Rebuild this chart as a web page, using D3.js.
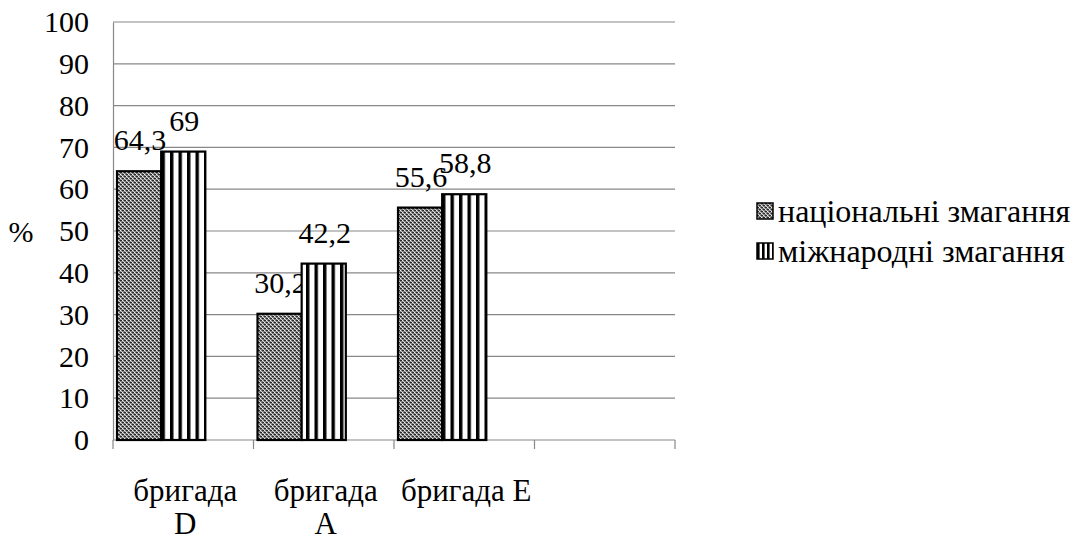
<!DOCTYPE html>
<html>
<head>
<meta charset="utf-8">
<script src="https://cdn.jsdelivr.net/npm/d3@7"></script>
<style>
  body { margin: 0; background: #fff; }
  svg text { font-family: "Liberation Serif", "Times New Roman", serif !important; fill: #000; }
</style>
</head>
<body>
<div id="chart"></div>
<script>
// data
const categories = ["бригада D", "бригада A", "бригада E", ""];
const catLines = [["бригада", "D"], ["бригада", "A"], ["бригада E"], []];
const seriesNames = ["національні змагання", "міжнародні змагання"];
const national = [64.3, 30.2, 55.6, null];
const international = [69, 42.2, 58.8, null];
const yTicks = [0, 10, 20, 30, 40, 50, 60, 70, 80, 90, 100];

const W = 1072, H = 535;
const plot = {left: 113, right: 675, top: 22, bottom: 440};
const fs = 30;
const serif = "'Liberation Serif', 'Times New Roman', serif";

const svg = d3.select("#chart").append("svg")
  .attr("width", W).attr("height", H)
  .attr("font-family", serif);

// patterns
const defs = svg.append("defs");
const checker = defs.append("pattern").attr("id", "checker")
  .attr("patternUnits", "userSpaceOnUse").attr("width", 4).attr("height", 4);
checker.append("rect").attr("width", 4).attr("height", 4).attr("fill", "#808080");
[[0,0,"#2a2a2a"],[1,0,"#2a2a2a"],[2,2,"#2a2a2a"],[3,2,"#2a2a2a"],[2,0,"#f4f4f4"],[0,2,"#f4f4f4"],[1,3,"#cfcfcf"],[3,1,"#cfcfcf"]]
  .forEach(p => checker.append("rect").attr("x", p[0]).attr("y", p[1])
    .attr("width", 1).attr("height", 1).attr("fill", p[2]));

const stripes = defs.append("pattern").attr("id", "stripes")
  .attr("patternUnits", "userSpaceOnUse").attr("width", 8.5).attr("height", 8);
stripes.append("rect").attr("width", 8.5).attr("height", 8).attr("fill", "#fff");
stripes.append("rect").attr("x", 0).attr("width", 3.4).attr("height", 8).attr("fill", "#000");

const legStripes = defs.append("pattern").attr("id", "legstripes")
  .attr("patternUnits", "userSpaceOnUse").attr("width", 5).attr("height", 8);
legStripes.append("rect").attr("width", 5).attr("height", 8).attr("fill", "#fff");
legStripes.append("rect").attr("x", 0).attr("width", 2.6).attr("height", 8).attr("fill", "#000");

const fills = ["url(#checker)", "url(#stripes)"];
const legFills = ["url(#checker)", "url(#legstripes)"];

// scales
const x0 = d3.scaleBand().domain(categories.map((d, i) => i))
  .range([plot.left, plot.right]).paddingInner(0.057).paddingOuter(0.0285);
// third (empty) series slot keeps the bars to the left of each category
const x1 = d3.scaleBand().domain([0, 1, 2]).range([0, x0.bandwidth()]);
const y = d3.scaleLinear().domain([0, 100]).range([plot.bottom, plot.top]);

// gridlines
svg.append("g").selectAll("line").data(yTicks.filter(t => t > 0)).join("line")
  .attr("x1", plot.left).attr("x2", plot.right)
  .attr("y1", d => y(d)).attr("y2", d => y(d))
  .attr("stroke", "#888").attr("stroke-width", 1.2);

// y axis
const yAxis = svg.append("g").attr("transform", `translate(${plot.left},0)`)
  .call(d3.axisLeft(y).tickValues(yTicks).tickSize(0).tickPadding(24));
yAxis.attr("font-family", serif).attr("font-size", fs);
yAxis.select(".domain").attr("stroke", "#888").attr("stroke-width", 1.2);
yAxis.selectAll("text").style("font-size", fs + "px");

// x axis
const step = x0.step();
const bounds = d3.range(categories.length + 1).map(i => plot.left + i * step);
svg.append("line").attr("x1", plot.left).attr("x2", plot.right)
  .attr("y1", plot.bottom).attr("y2", plot.bottom)
  .attr("stroke", "#888").attr("stroke-width", 1.2);
svg.append("g").selectAll("line").data(bounds).join("line")
  .attr("x1", d => d).attr("x2", d => d)
  .attr("y1", plot.bottom).attr("y2", plot.bottom + 9)
  .attr("stroke", "#888").attr("stroke-width", 1.2);

svg.append("g").selectAll("text").data(catLines).join("text")
  .attr("text-anchor", "middle")
  .attr("x", (d, i) => x0(i) + x0.bandwidth() / 2 + 2)
  .style("font-size", "31px")
  .selectAll("tspan").data(d => d).join("tspan")
    .attr("x", function() { return d3.select(this.parentNode).attr("x"); })
    .attr("y", (d, j) => 501 + j * 33)
    .text(d => d);

// bars
const series = [national, international];
series.forEach((vals, s) => {
  const g = svg.append("g");
  const data = vals.map((v, i) => ({v, i})).filter(d => d.v != null);
  g.selectAll("rect").data(data).join("rect")
    .attr("x", d => x0(d.i) + x1(s))
    .attr("y", d => y(d.v))
    .attr("width", x1.bandwidth())
    .attr("height", d => y(0) - y(d.v))
    .attr("fill", fills[s])
    .attr("stroke", "#000").attr("stroke-width", 2.2);
  g.selectAll("text").data(data).join("text")
    .attr("text-anchor", "middle")
    .attr("x", d => x0(d.i) + x1(s) + x1.bandwidth() / 2 + 1)
    .attr("y", d => y(d.v) - 21)
    .style("font-size", fs + "px")
    .text(d => String(d.v).replace(".", ","));
});

// y title
svg.append("text").attr("x", 21).attr("y", 231).attr("dy", "0.35em")
  .attr("text-anchor", "middle").style("font-size", fs + "px").text("%");

// legend
const legend = svg.append("g").selectAll("g").data(seriesNames).join("g")
  .attr("transform", (d, i) => `translate(757,${211 + i * 40})`);
legend.append("rect").attr("x", 0).attr("y", -8).attr("width", 16).attr("height", 16)
  .attr("fill", (d, i) => legFills[i]).attr("stroke", "#000").attr("stroke-width", 1.5);
legend.append("text").attr("x", 21).attr("dy", "0.35em")
  .style("font-size", "32px").text(d => d);
</script>
</body>
</html>
